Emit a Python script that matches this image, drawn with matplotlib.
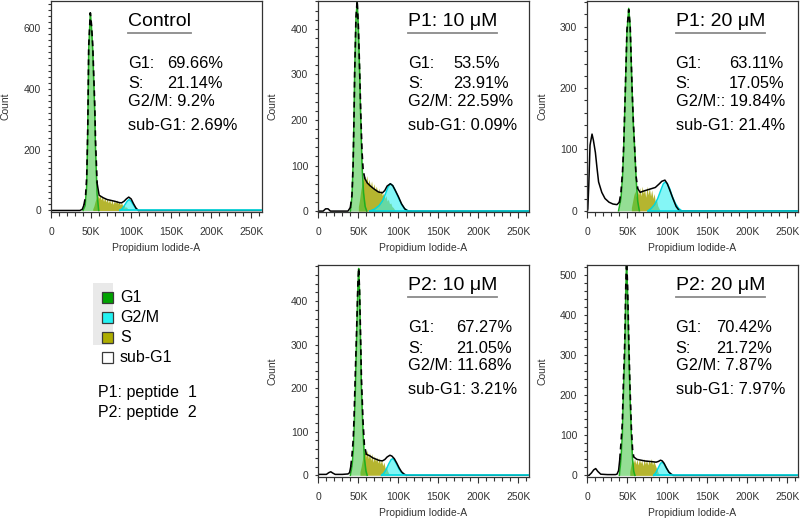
"""Cell-cycle histograms (propidium iodide) for control and peptide treatments."""

import numpy as np
import matplotlib

matplotlib.use("Agg")
import matplotlib.pyplot as plt
from matplotlib.patches import Rectangle
from matplotlib.ticker import FuncFormatter, MultipleLocator

plt.rcParams["font.family"] = ["Liberation Sans", "DejaVu Sans"]

# x values are PI-A in thousands (K), y values are counts
S_STEP = 1.5

CONTROL_TOTAL_X = [0, 36, 39, 41, 43, 44.5, 45.8, 47, 49, 50.5, 52, 54.5, 55.5, 57.5, 60, 65, 70, 75, 80, 85,
                   88, 91, 94, 97, 100, 103, 106, 109, 262]
CONTROL_TOTAL_Y = [0, 0, 4, 18, 45, 110, 270, 540, 650, 610, 545, 350, 230, 90, 50, 42, 36, 33, 30, 26,
                   25, 30, 38, 44, 38, 22, 8, 0, 0]
CONTROL_G1_X = [40, 42.5, 44.5, 45.8, 47, 49, 50.5, 52, 54.5, 55.5, 57.5, 59.5]
CONTROL_G1_Y = [0, 15, 80, 260, 528, 650, 600, 528, 325, 200, 52, 0]
CONTROL_S_START = 52
CONTROL_S_Y = [5, 15, 30, 42, 55, 40, 52, 35, 48, 30, 44, 28, 40, 25, 38, 22, 36, 20, 33, 24, 35, 22, 30, 18,
               26, 15, 20, 10, 12, 6, 4, 2, 0]
CONTROL_G2_X = [86, 89, 92, 95, 97.5, 100, 103, 106, 109]
CONTROL_G2_Y = [0, 6, 18, 30, 36, 30, 18, 6, 0]

P1_10_TOTAL_X = [0, 6, 9, 12, 15, 37, 40, 42, 43.4, 44.5, 45.4, 47, 48.5, 50, 51.6, 53, 54.6, 56, 58, 61,
                 65, 70, 75, 80, 83, 86, 90, 93, 96, 100, 104, 108, 112, 262]
P1_10_TOTAL_Y = [0, 0, 5, 5, 0, 0, 8, 35, 100, 200, 305, 425, 462, 405, 310, 215, 130, 90, 72, 62,
                 55, 48, 42, 40, 45, 55, 60, 56, 46, 32, 16, 5, 0, 0]
P1_10_G1_X = [40, 42, 43.4, 44.5, 45.4, 47, 48.5, 50, 51.6, 53, 54.6, 56.5, 58.5, 60.5]
P1_10_G1_Y = [0, 30, 100, 200, 303, 420, 460, 400, 303, 200, 100, 40, 10, 0]
P1_10_S_START = 50
P1_10_S_Y = [10, 25, 45, 60, 72, 80, 62, 78, 58, 70, 52, 66, 48, 60, 44, 55, 40, 50, 38, 46, 34, 40, 28, 34,
             22, 26, 16, 18, 10, 8, 4, 0]
P1_10_G2_X = [64, 70, 76, 80, 84, 87, 90, 93, 96, 100, 104, 108, 112, 116]
P1_10_G2_Y = [0, 4, 12, 22, 38, 52, 60, 56, 46, 30, 15, 5, 1, 0]

P1_20_TOTAL_X = [0, 0.5, 1.7, 3.3, 5.8, 7.5, 10, 12, 14, 18, 22, 27, 32, 37, 40, 42, 44, 45.4, 47.5, 49.5,
                 51.7, 53.5, 55.9, 57.5, 59.2, 61, 63, 66, 70, 75, 80, 85, 90, 93, 97, 100, 103, 107, 111, 115, 262]
P1_20_TOTAL_Y = [0, 3, 41, 107, 125, 115, 95, 70, 47, 30, 20, 14, 11, 10, 14, 30, 65, 105, 200, 295,
                 328, 302, 200, 145, 100, 55, 36, 30, 32, 34, 36, 38, 44, 48, 50, 44, 34, 20, 7, 0, 0]
P1_20_G1_X = [39, 42, 44, 45.4, 47.5, 49.5, 51.7, 53.5, 55.9, 57.5, 59.2, 61, 63, 65]
P1_20_G1_Y = [0, 20, 55, 100, 197, 290, 330, 300, 197, 140, 100, 50, 15, 0]
P1_20_S_START = 55
P1_20_S_Y = [5, 15, 25, 32, 22, 36, 26, 38, 24, 40, 28, 36, 22, 40, 26, 38, 24, 34, 20, 28, 14, 18, 8, 4, 0]
P1_20_G2_X = [76, 80, 84, 88, 92, 95, 97.5, 100, 103, 106, 110, 114, 118]
P1_20_G2_Y = [0, 4, 10, 20, 34, 44, 47, 44, 36, 24, 12, 4, 0]

P2_10_TOTAL_X = [0, 10, 13, 15.5, 18, 21, 30, 37, 39, 40.5, 42, 43.5, 44.6, 46.3, 48, 49.5, 50.4, 51.5, 53,
                 53.8, 55.8, 57.5, 60, 64, 68, 72, 76, 80, 83, 86, 89.5, 92, 95, 98, 101, 104, 107, 110, 262]
P2_10_TOTAL_Y = [2, 2, 6, 8, 5, 2, 2, 3, 6, 20, 45, 80, 130, 240, 345, 445, 476, 425, 300,
                 225, 125, 70, 48, 45, 40, 37, 34, 33, 36, 42, 46, 44, 38, 28, 17, 8, 3, 0, 0]
P2_10_G1_X = [40, 42, 43.5, 44.6, 46.3, 48, 49.5, 50.4, 51.5, 53, 53.8, 55.8, 57.5, 59.5, 61]
P2_10_G1_Y = [0, 20, 50, 100, 200, 330, 440, 475, 420, 280, 200, 100, 40, 10, 0]
P2_10_S_START = 52
P2_10_S_Y = [8, 20, 35, 50, 60, 42, 58, 38, 52, 34, 50, 30, 45, 32, 42, 28, 40, 26, 36, 22, 30, 16, 20, 10, 4, 0]
P2_10_G2_X = [79, 82, 85, 88, 91, 93, 95, 98, 101, 104, 107, 110]
P2_10_G2_Y = [0, 5, 14, 26, 36, 38, 35, 25, 14, 6, 2, 0]

P2_20_TOTAL_X = [0, 2, 5, 8, 10.4, 13, 16.7, 25, 35, 37, 39, 40.5, 42, 43.7, 45, 46.7, 48, 49, 50.3, 52,
                 53.3, 55, 56.5, 58, 62, 67, 72, 77, 82, 86, 89, 91.5, 93.7, 96, 99, 102, 105, 108, 262]
P2_20_TOTAL_Y = [0, 0, 6, 14, 17, 10, 3, 2, 2, 3, 12, 40, 80, 130, 230, 330, 470, 545, 470, 320,
                 220, 120, 65, 46, 40, 38, 36, 35, 34, 33, 35, 38, 36, 30, 18, 8, 3, 0, 0]
P2_20_G1_X = [40, 42, 43.7, 45, 46.7, 48, 49, 50.3, 52, 53.3, 55, 56.5, 58, 59.5]
P2_20_G1_Y = [0, 40, 100, 200, 300, 450, 540, 450, 300, 200, 100, 40, 10, 0]
P2_20_S_START = 53
P2_20_S_Y = [10, 25, 40, 30, 42, 28, 40, 26, 42, 30, 38, 24, 42, 28, 40, 26, 38, 30, 42, 26, 36, 28, 20, 12, 5, 0]
P2_20_G2_X = [83, 86, 89, 91.5, 93.7, 96, 99, 102, 105, 107]
P2_20_G2_Y = [0, 8, 20, 30, 33, 28, 18, 8, 2, 0]

TITLES = ["Control", "P1: 10 μM", "P1: 20 μM", "P2: 10 μM", "P2: 20 μM"]
G1_PCT = ["69.66%", "53.5%", "63.11%", "67.27%", "70.42%"]
S_PCT = ["21.14%", "23.91%", "17.05%", "21.05%", "21.72%"]
G2M_TEXT = ["G2/M: 9.2%", "G2/M: 22.59%", "G2/M:: 19.84%", "G2/M: 11.68%", "G2/M: 7.87%"]
SUBG1_TEXT = ["sub-G1: 2.69%", "sub-G1: 0.09%", "sub-G1: 21.4%", "sub-G1: 3.21%", "sub-G1: 7.97%"]

LEGEND_LABELS = ["G1", "G2/M", "S", "sub-G1"]
NOTES = ["P1: peptide  1", "P2: peptide  2"]

G1_FILL, G1_EDGE = "#3cc43c", "#1fae1f"
S_FILL = "#a8a80a"
G2_FILL, G2_EDGE = "#33f0f0", "#00d8e0"
LEGEND_COLORS = ["#00a300", "#22f2f2", "#adad00", "#ffffff"]

FIG_W, FIG_H = 800, 519


def _px_box(left, top, right, bottom):
    return [left / FIG_W, 1 - bottom / FIG_H, (right - left) / FIG_W, (bottom - top) / FIG_H]


def _k_label(value, _pos):
    return "0" if value == 0 else f"{int(value)}K"


def _style_axes(ax, ylim, ystep):
    ax.set_xlim(-0.5, 263.5)
    ax.set_ylim(*ylim)
    ax.xaxis.set_major_locator(MultipleLocator(50))
    ax.xaxis.set_minor_locator(MultipleLocator(10))
    ax.xaxis.set_major_formatter(FuncFormatter(_k_label))
    ax.yaxis.set_major_locator(MultipleLocator(ystep))
    ax.yaxis.set_minor_locator(MultipleLocator(20))
    ax.tick_params(axis="x", which="major", length=4, width=0.8, pad=6.5, labelsize=7.5, colors="#333333")
    ax.tick_params(axis="x", which="minor", length=3, width=0.8, color="#333333")
    ax.tick_params(axis="y", which="major", length=2.5, width=0.8, pad=4.5, labelsize=7.5, colors="#333333")
    ax.tick_params(axis="y", which="minor", length=2.5, width=0.8, color="#333333")
    for spine in ax.spines.values():
        spine.set_color("#333333")
        spine.set_linewidth(0.9)
    ax.set_xlabel("Propidium Iodide-A", fontsize=7.5, color="#333333")
    ax.set_ylabel("Count", fontsize=7.5, color="#333333")
    ax.xaxis.set_label_coords(0.5, -36 / 211)
    ax.yaxis.set_label_coords(-45 / 211, 0.5)
    ax.xaxis.label.set_va("center")
    ax.yaxis.label.set_va("center")


def _draw_histogram(ax, total_x, total_y, g1_x, g1_y, s_start, s_y, g2_x, g2_y):
    tx, ty = np.asarray(total_x, float), np.asarray(total_y, float)
    sx = s_start + S_STEP * np.arange(len(s_y))
    ax.fill_between(sx, s_y, color=S_FILL, alpha=0.85, lw=0)
    ax.fill_between(g1_x, g1_y, color=G1_FILL, alpha=0.55, lw=0)
    ax.plot(g1_x, g1_y, color=G1_EDGE, lw=1.1)
    ax.fill_between(g2_x, g2_y, color=G2_FILL, alpha=0.6, lw=0)
    ax.plot(g2_x, g2_y, color=G2_EDGE, lw=1.1)

    i0 = int(np.argmax(tx >= g1_x[0]))
    i1 = int(np.nonzero(tx <= g1_x[-1])[0][-1])
    ax.plot(tx[: i0 + 1], ty[: i0 + 1], color="black", lw=1.1)
    ax.plot(tx[i0: i1 + 1], ty[i0: i1 + 1], color="black", lw=1.2, dashes=(3.5, 2.5))
    ax.plot(tx[i1:], ty[i1:], color="black", lw=1.1)
    ax.plot([g2_x[0], ax.get_xlim()[1]], [0, 0], color=G2_EDGE, lw=1.2)


def _annotate(fig, ax, idx, left, value_x, height_px):
    def ay(px):
        return 1 - px / height_px

    title = ax.text(left, ay(21), TITLES[idx], transform=ax.transAxes, fontsize=14, va="center", ha="left")
    kw = dict(transform=ax.transAxes, fontsize=11.8, va="center", ha="left")
    ax.text(left, ay(63), "G1:", **kw)
    ax.text(value_x, ay(63), G1_PCT[idx], **kw)
    ax.text(left, ay(83), "S:", **kw)
    ax.text(value_x, ay(83), S_PCT[idx], **kw)
    ax.text(left, ay(100), G2M_TEXT[idx], **kw)
    ax.text(left, ay(125), SUBG1_TEXT[idx], **kw)

    renderer = fig.canvas.get_renderer()
    bbox = title.get_window_extent(renderer).transformed(ax.transAxes.inverted())
    ax.plot([bbox.x0, bbox.x1], [ay(32), ay(32)], transform=ax.transAxes, color="#8a8a8a",
            lw=1.3, clip_on=False)


def _legend(fig):
    lax = fig.add_axes([0, 0, 1, 1])
    lax.set_xlim(0, FIG_W)
    lax.set_ylim(FIG_H, 0)
    lax.axis("off")
    lax.add_patch(Rectangle((93, 283), 20, 62, facecolor="#e9e9e9", edgecolor="none"))
    for i, (label, color) in enumerate(zip(LEGEND_LABELS, LEGEND_COLORS)):
        yc = 297 + 20.3 * i
        lax.add_patch(Rectangle((101.5, yc - 5.5), 11, 11, facecolor=color, edgecolor="#3a3a3a", lw=0.9))
        lax.text(120, yc, label, fontsize=11.5, va="center", ha="left")
    for i, note in enumerate(NOTES):
        lax.text(98, 393 + 19.5 * i, note, fontsize=11.5, va="center", ha="left")


def main() -> None:
    fig = plt.figure(figsize=(FIG_W / 100, FIG_H / 100), dpi=100)

    panels = [
        (_px_box(50.7, 1, 262, 212), (-5, 689), 200, 0.366, 0.551,
         (CONTROL_TOTAL_X, CONTROL_TOTAL_Y, CONTROL_G1_X, CONTROL_G1_Y, CONTROL_S_START, CONTROL_S_Y,
          CONTROL_G2_X, CONTROL_G2_Y)),
        (_px_box(318, 1, 529, 212), (-2, 461), 100, 0.427, 0.640,
         (P1_10_TOTAL_X, P1_10_TOTAL_Y, P1_10_G1_X, P1_10_G1_Y, P1_10_S_START, P1_10_S_Y,
          P1_10_G2_X, P1_10_G2_Y)),
        (_px_box(587, 1, 798, 212), (-2, 342), 100, 0.420, 0.673,
         (P1_20_TOTAL_X, P1_20_TOTAL_Y, P1_20_G1_X, P1_20_G1_Y, P1_20_S_START, P1_20_S_Y,
          P1_20_G2_X, P1_20_G2_Y)),
        (_px_box(318, 265, 529, 477), (-4, 483), 100, 0.427, 0.654,
         (P2_10_TOTAL_X, P2_10_TOTAL_Y, P2_10_G1_X, P2_10_G1_Y, P2_10_S_START, P2_10_S_Y,
          P2_10_G2_X, P2_10_G2_Y)),
        (_px_box(587, 265, 798, 477), (-4, 525), 100, 0.420, 0.614,
         (P2_20_TOTAL_X, P2_20_TOTAL_Y, P2_20_G1_X, P2_20_G1_Y, P2_20_S_START, P2_20_S_Y,
          P2_20_G2_X, P2_20_G2_Y)),
    ]

    for idx, (box, ylim, ystep, left, value_x, data) in enumerate(panels):
        ax = fig.add_axes(box)
        _style_axes(ax, ylim, ystep)
        _draw_histogram(ax, *data)
        _annotate(fig, ax, idx, left, value_x, box[3] * FIG_H)

    _legend(fig)
    fig.savefig("out.png", dpi=100)
    plt.close(fig)


if __name__ == "__main__":
    main()
